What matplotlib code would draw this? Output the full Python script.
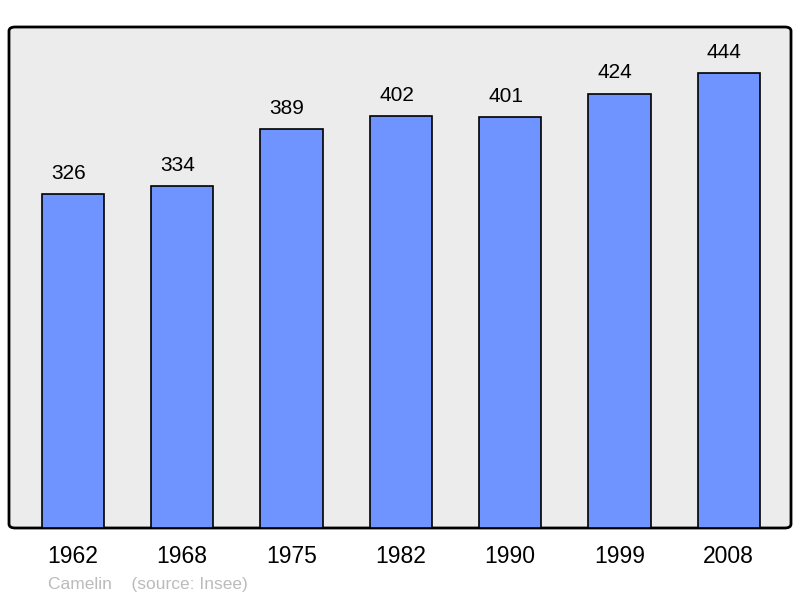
import matplotlib.pyplot as plt
from matplotlib.patches import FancyBboxPatch

years = ['1962', '1968', '1975', '1982', '1990', '1999', '2008']
population = [326, 334, 389, 402, 401, 424, 444]

plt.rcParams['font.family'] = ['Liberation Sans', 'DejaVu Sans']

fig = plt.figure(figsize=(8, 5.98), dpi=100)
ax = fig.add_axes([9 / 800, 70 / 598, 782 / 800, 501 / 598])
ax.set_facecolor('none')

# rounded frame behind the bars
frame = FancyBboxPatch((0, 0), 1, 1, boxstyle='round,pad=0,rounding_size=0.008',
                       transform=ax.transAxes, facecolor='#ececec',
                       edgecolor='black', linewidth=2, zorder=0, clip_on=False)
ax.add_patch(frame)

x = range(len(years))
bars = ax.bar(x, population, width=0.57, color='#7094ff', edgecolor='black',
              linewidth=1.2, zorder=2)
for xi, v in zip(x, population):
    ax.text(xi - 0.04, v + 11, str(v), ha='center', va='bottom', fontsize=15)

ax.set_xlim(-0.585, 6.57)
ax.set_ylim(0, 489)
ax.set_xticks(list(x))
ax.set_xticklabels(years, fontsize=16.5)
ax.tick_params(axis='x', length=0, pad=12)
ax.set_yticks([])
for s in ax.spines.values():
    s.set_visible(False)

fig.text(48 / 800, 1 - 584 / 598, 'Camelin    (source: Insee)', fontsize=12.5,
         color='#bbbbbb', va='center', ha='left')

fig.savefig('out.png', dpi=100)
